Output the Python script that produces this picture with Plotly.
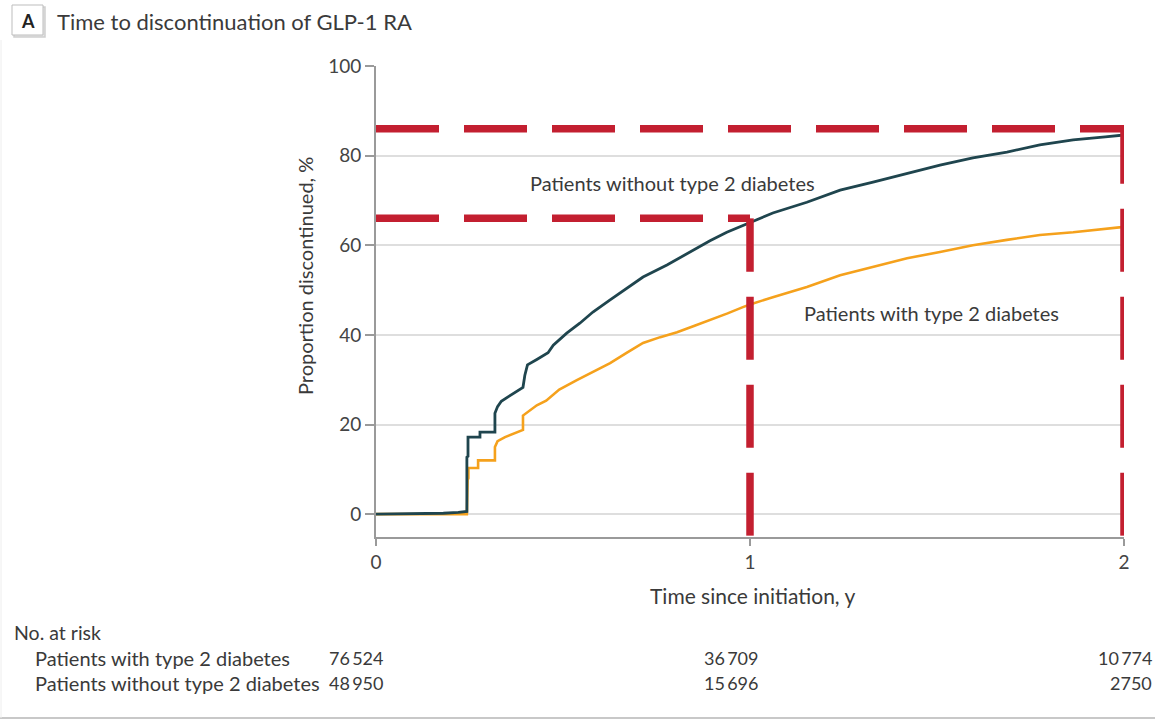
import plotly.graph_objects as go

# ---- data ----
t_without = [0, 0.10, 0.18, 0.22, 0.243, 0.243, 0.246, 0.246, 0.278, 0.278, 0.318, 0.318, 0.325, 0.335,
             0.35, 0.37, 0.393, 0.398, 0.405, 0.43, 0.46, 0.474, 0.49, 0.51, 0.545, 0.58, 0.626,
             0.671, 0.714, 0.778, 0.848, 0.893, 0.938, 0.973, 1.0, 1.061, 1.152, 1.241, 1.329,
             1.42, 1.508, 1.596, 1.687, 1.775, 1.864, 1.95, 2.0]
p_without = [0, 0.05, 0.2, 0.4, 0.6, 12.7, 12.9, 17.2, 17.2, 18.3, 18.3, 22.5, 24.0, 25.2,
             26.0, 27.0, 28.3, 31.0, 33.3, 34.5, 36.0, 37.7, 39.0, 40.4, 42.6, 45.1, 47.8,
             50.4, 52.9, 55.6, 58.9, 61.0, 62.9, 64.1, 65.2, 67.2, 69.6, 72.3, 74.1,
             76.1, 77.9, 79.5, 80.8, 82.4, 83.5, 84.2, 84.6]

t_with = [0, 0.243, 0.245, 0.247, 0.247, 0.273, 0.273, 0.318, 0.318, 0.325, 0.345, 0.37, 0.393,
          0.393, 0.41, 0.43, 0.455, 0.471, 0.49, 0.537, 0.58, 0.626, 0.67, 0.714, 0.76, 0.805,
          0.85, 0.893, 0.94, 0.981, 1.0, 1.061, 1.152, 1.241, 1.329, 1.42, 1.508, 1.596,
          1.687, 1.775, 1.864, 1.95, 2.0]
p_with = [0, 0, 7.6, 8.0, 10.3, 10.3, 12.0, 12.0, 15.0, 16.3, 17.2, 18.0, 18.8,
          22.0, 23.0, 24.3, 25.3, 26.5, 27.8, 29.9, 31.8, 33.7, 36.0, 38.2, 39.5, 40.6,
          42.0, 43.3, 44.8, 46.2, 46.8, 48.4, 50.7, 53.3, 55.1, 57.1, 58.5, 60.0,
          61.2, 62.3, 62.9, 63.7, 64.1]

x_ticks = [0, 1, 2]
y_ticks = [0, 20, 40, 60, 80, 100]

at_risk_times = [0, 1, 2]
at_risk_with = ["76\u2009524", "36\u2009709", "10\u2009774"]
at_risk_without = ["48\u2009950", "15\u2009696", "2750"]

# red highlight guides (value levels)
guide_hi = 86
guide_lo = 66
guide_x1 = 1
guide_x2 = 2
y_bottom = -4.8

FONT = "Lato"
TEAL = "#1f454e"
ORANGE = "#f5a11c"
RED = "#c31f30"
TXT = "#3a3a3a"

fig = go.Figure()

fig.add_trace(go.Scatter(x=t_with, y=p_with, mode="lines",
                         line=dict(color=ORANGE, width=2.6), hoverinfo="skip"))
fig.add_trace(go.Scatter(x=t_without, y=p_without, mode="lines",
                         line=dict(color=TEAL, width=2.8), hoverinfo="skip"))

dash = "63px,25px"
fig.add_trace(go.Scatter(x=[0, 2], y=[guide_hi, guide_hi], mode="lines",
                         line=dict(color=RED, width=7.5, dash=dash), cliponaxis=False, hoverinfo="skip"))
fig.add_trace(go.Scatter(x=[0, 1], y=[guide_lo, guide_lo], mode="lines",
                         line=dict(color=RED, width=7.5, dash=dash), cliponaxis=False, hoverinfo="skip"))
fig.add_trace(go.Scatter(x=[guide_x1, guide_x1], y=[y_bottom, guide_lo], mode="lines",
                         line=dict(color=RED, width=7.5, dash=dash), cliponaxis=False, hoverinfo="skip"))
fig.add_trace(go.Scatter(x=[guide_x2, guide_x2], y=[y_bottom, guide_hi], mode="lines",
                         line=dict(color=RED, width=7.5, dash=dash), cliponaxis=False, hoverinfo="skip"))

annotations = [
    dict(x=0.794, y=73.9, xref="x", yref="y", text="Patients without type 2 diabetes",
         showarrow=False, font=dict(family=FONT, size=20, color=TXT)),
    dict(x=1.484, y=44.9, xref="x", yref="y", text="Patients with type 2 diabetes",
         showarrow=False, font=dict(family=FONT, size=20, color=TXT)),
]

W, H = 1155, 721
L, R, T, B = 376, 31, 66, 184
PW, PH = W - L - R, H - T - B


def px(xp):
    return (xp - L) / PW


def py(yp):
    return (H - B - yp) / PH


# title
annotations.append(dict(x=px(28), y=py(21), xref="paper", yref="paper", text="<b>A</b>",
                        showarrow=False, xanchor="center", yanchor="middle",
                        font=dict(family=FONT, size=18, color="#222222")))
annotations.append(dict(x=px(55), y=py(21), xref="paper", yref="paper",
                        text="Time to discontinuation of GLP-1 RA", showarrow=False,
                        xanchor="left", yanchor="middle",
                        font=dict(family=FONT, size=22, color=TXT)))

# axis titles
annotations.append(dict(x=px(752), y=py(595), xref="paper", yref="paper",
                        text="Time since initiation, y", showarrow=False,
                        xanchor="center", yanchor="middle",
                        font=dict(family=FONT, size=21, color=TXT)))
annotations.append(dict(x=px(305), y=py(276), xref="paper", yref="paper",
                        text="Proportion discontinued, %", showarrow=False, textangle=-90,
                        xanchor="center", yanchor="middle",
                        font=dict(family=FONT, size=20, color=TXT)))

# at-risk table
annotations.append(dict(x=px(12), y=py(632), xref="paper", yref="paper", text="No. at risk",
                        showarrow=False, xanchor="left", yanchor="middle",
                        font=dict(family=FONT, size=19.5, color=TXT)))
annotations.append(dict(x=px(33), y=py(658), xref="paper", yref="paper",
                        text="Patients with type 2 diabetes", showarrow=False,
                        xanchor="left", yanchor="middle",
                        font=dict(family=FONT, size=20, color=TXT)))
annotations.append(dict(x=px(33), y=py(683), xref="paper", yref="paper",
                        text="Patients without type 2 diabetes", showarrow=False,
                        xanchor="left", yanchor="middle",
                        font=dict(family=FONT, size=20, color=TXT)))
col_x = [px(356), px(731), px(1154)]
col_anchor = ["center", "center", "right"]
for i, t in enumerate(at_risk_times):
    annotations.append(dict(x=col_x[i], y=py(658), xref="paper", yref="paper",
                            text=at_risk_with[i], showarrow=False, xanchor=col_anchor[i],
                            yanchor="middle", font=dict(family=FONT, size=18, color=TXT)))
    annotations.append(dict(x=col_x[i], y=py(683), xref="paper", yref="paper",
                            text=at_risk_without[i], showarrow=False, xanchor=col_anchor[i],
                            yanchor="middle", font=dict(family=FONT, size=18, color=TXT)))

shapes = [
    # "A" box shadow + box
    dict(type="rect", xref="paper", yref="paper", x0=px(14), x1=px(45), y0=py(37), y1=py(7),
         line=dict(color="#cfcfcf", width=1.5), fillcolor="#e6e6e6", layer="below"),
    dict(type="rect", xref="paper", yref="paper", x0=px(12), x1=px(43), y0=py(35), y1=py(5),
         line=dict(color="#bdbdbd", width=1), fillcolor="white", layer="below"),
    # panel frame bottom
    dict(type="line", xref="paper", yref="paper", x0=px(0), x1=px(1155), y0=py(718), y1=py(718),
         line=dict(color="#c8c8c8", width=2)),
    dict(type="line", xref="paper", yref="paper", x0=px(1), x1=px(1), y0=py(40), y1=py(718),
         line=dict(color="#eeeeee", width=1)),
]

fig.update_layout(
    width=W, height=H,
    margin=dict(l=L, r=R, t=T, b=B, pad=0),
    paper_bgcolor="white", plot_bgcolor="white",
    showlegend=False,
    font=dict(family=FONT, size=19, color="#444444"),
    annotations=annotations,
    shapes=shapes,
    xaxis=dict(range=[0, 2], tickvals=x_ticks, ticktext=[str(v) for v in x_ticks],
               showgrid=False, zeroline=False, showline=True, linecolor="#9a9a9a", linewidth=2,
               ticks="outside", ticklen=7, tickcolor="#9a9a9a", tickwidth=1.5,
               tickfont=dict(family=FONT, size=19, color="#444444")),
    yaxis=dict(range=[-5.1, 100], tickvals=y_ticks, showgrid=True, gridcolor="#dedede",
               gridwidth=1.5, zeroline=False, showline=True, linecolor="#9a9a9a", linewidth=2,
               ticks="outside", ticklen=9, tickcolor="#9a9a9a", tickwidth=1.5,
               tickfont=dict(family=FONT, size=19, color="#444444")),
)

fig.write_html("out.html")
